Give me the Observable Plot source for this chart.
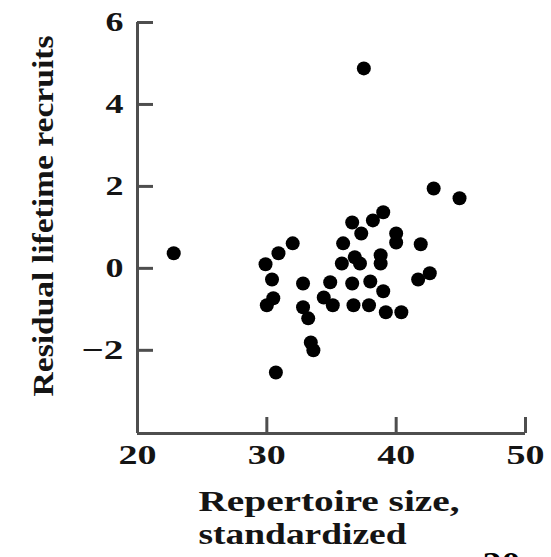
<!DOCTYPE html>
<html><head><meta charset="utf-8">
<script src="https://cdn.jsdelivr.net/npm/d3@7"></script>
<script src="https://cdn.jsdelivr.net/npm/@observablehq/plot@0.6"></script>
<style>html,body{margin:0;padding:0;background:#fff;overflow:hidden} svg{display:block}</style>
</head><body><div id="chart"></div>
<script>
// Repertoire size (standardized) and residual lifetime recruits
const repertoire = [22.8, 37.5, 42.9, 44.9, 39.0, 38.2, 36.6, 37.3, 40.0, 40.0, 41.9, 35.9, 38.8, 38.8,
  36.8, 35.8, 37.2, 41.7, 42.6, 32.0, 30.9, 29.9, 30.4, 32.8, 34.9, 36.6, 38.0, 39.0, 30.5, 30.0,
  32.8, 33.2, 34.4, 35.1, 36.7, 37.9, 39.2, 40.4, 33.4, 33.6, 30.7];
const recruits = [0.37, 4.88, 1.95, 1.71, 1.37, 1.17, 1.12, 0.85, 0.85, 0.63, 0.59, 0.61, 0.32, 0.12,
  0.27, 0.12, 0.12, -0.27, -0.12, 0.61, 0.37, 0.10, -0.27, -0.37, -0.34, -0.37, -0.32, -0.56, -0.73, -0.90,
  -0.95, -1.22, -0.71, -0.90, -0.90, -0.90, -1.07, -1.07, -1.81, -2.00, -2.54];
const xTicks = [20, 30, 40, 50];
const yTicks = [-2, 0, 2, 4, 6];
const xLabel = ["Repertoire size,", "standardized"];
const yLabel = "Residual lifetime recruits";
const pageNumber = "20";

const W = 551, H = 557, mL = 137, mR = 26, mT = 22, mB = 124;
const yMin = -4.03;
const data = repertoire.map((x, i) => ({x, y: recruits[i]}));
const ink = "#141414", axisInk = "#4e4e4e";
const fmtY = d => d < 0 ? `\u2212${-d}` : String(d);
const frameMidY = mT + (H - mT - mB) / 2;

const plot = Plot.plot({
  width: W, height: H, marginLeft: mL, marginRight: mR, marginTop: mT, marginBottom: mB,
  x: {domain: [20, 50], axis: null},
  y: {domain: [yMin, 6], axis: null},
  style: {fontFamily: "'Liberation Serif', 'DejaVu Serif', serif", background: "white", color: ink},
  marks: [
    Plot.ruleX([20], {stroke: axisInk, strokeWidth: 3}),
    Plot.ruleY([yMin], {stroke: axisInk, strokeWidth: 3}),
    Plot.tickY(yTicks, {y: d => d, stroke: axisInk, strokeWidth: 3, insetRight: W - mL - mR - 16}),
    Plot.tickX(xTicks.slice(1), {x: d => d, stroke: axisInk, strokeWidth: 3, insetTop: H - mT - mB - 16}),
    Plot.text(xTicks, {x: d => d, frameAnchor: "bottom", dy: 30, text: d => String(d),
      fontSize: 27, fontWeight: "bold", fill: ink}),
    Plot.text(yTicks, {y: d => d, frameAnchor: "left", dx: -14, textAnchor: "end", text: fmtY,
      fontSize: 27, fontWeight: "bold", fill: ink}),
    Plot.dot(data, {x: "x", y: "y", r: 7, fill: "black"}),
    Plot.text([yLabel], {frameAnchor: "left", dx: 43 - mL, dy: 396 - frameMidY, rotate: -90,
      textAnchor: "start", fontSize: 30, fontWeight: "bold", fill: ink}),
    Plot.text([xLabel[0]], {frameAnchor: "bottom-left", dx: 61, dy: 77, textAnchor: "start",
      fontSize: 30, fontWeight: "bold", fill: ink}),
    Plot.text([xLabel[1]], {frameAnchor: "bottom-left", dx: 61, dy: 110, textAnchor: "start",
      fontSize: 30, fontWeight: "bold", fill: ink}),
    Plot.text([pageNumber], {frameAnchor: "bottom-right", dx: -5, dy: 118, lineAnchor: "top",
      fontSize: 32, fontWeight: "bold", fill: "#000"})
  ]
});
document.getElementById("chart").appendChild(plot);

// the reference typography is horizontally wide; stretch text to measured extents
const lengths = {"Repertoire size,": 261, "standardized": 208, "Residual lifetime recruits": 361,
  "20": 38, "30": 38, "40": 38, "50": 38, "6": 18, "4": 18, "2": 18, "0": 18, "\u22122": 42};
d3.select(plot).selectAll("text").each(function() {
  const t = this.textContent;
  if (lengths[t]) {
    this.setAttribute("textLength", lengths[t]);
    this.setAttribute("lengthAdjust", "spacingAndGlyphs");
  }
});
</script>
</body></html>
